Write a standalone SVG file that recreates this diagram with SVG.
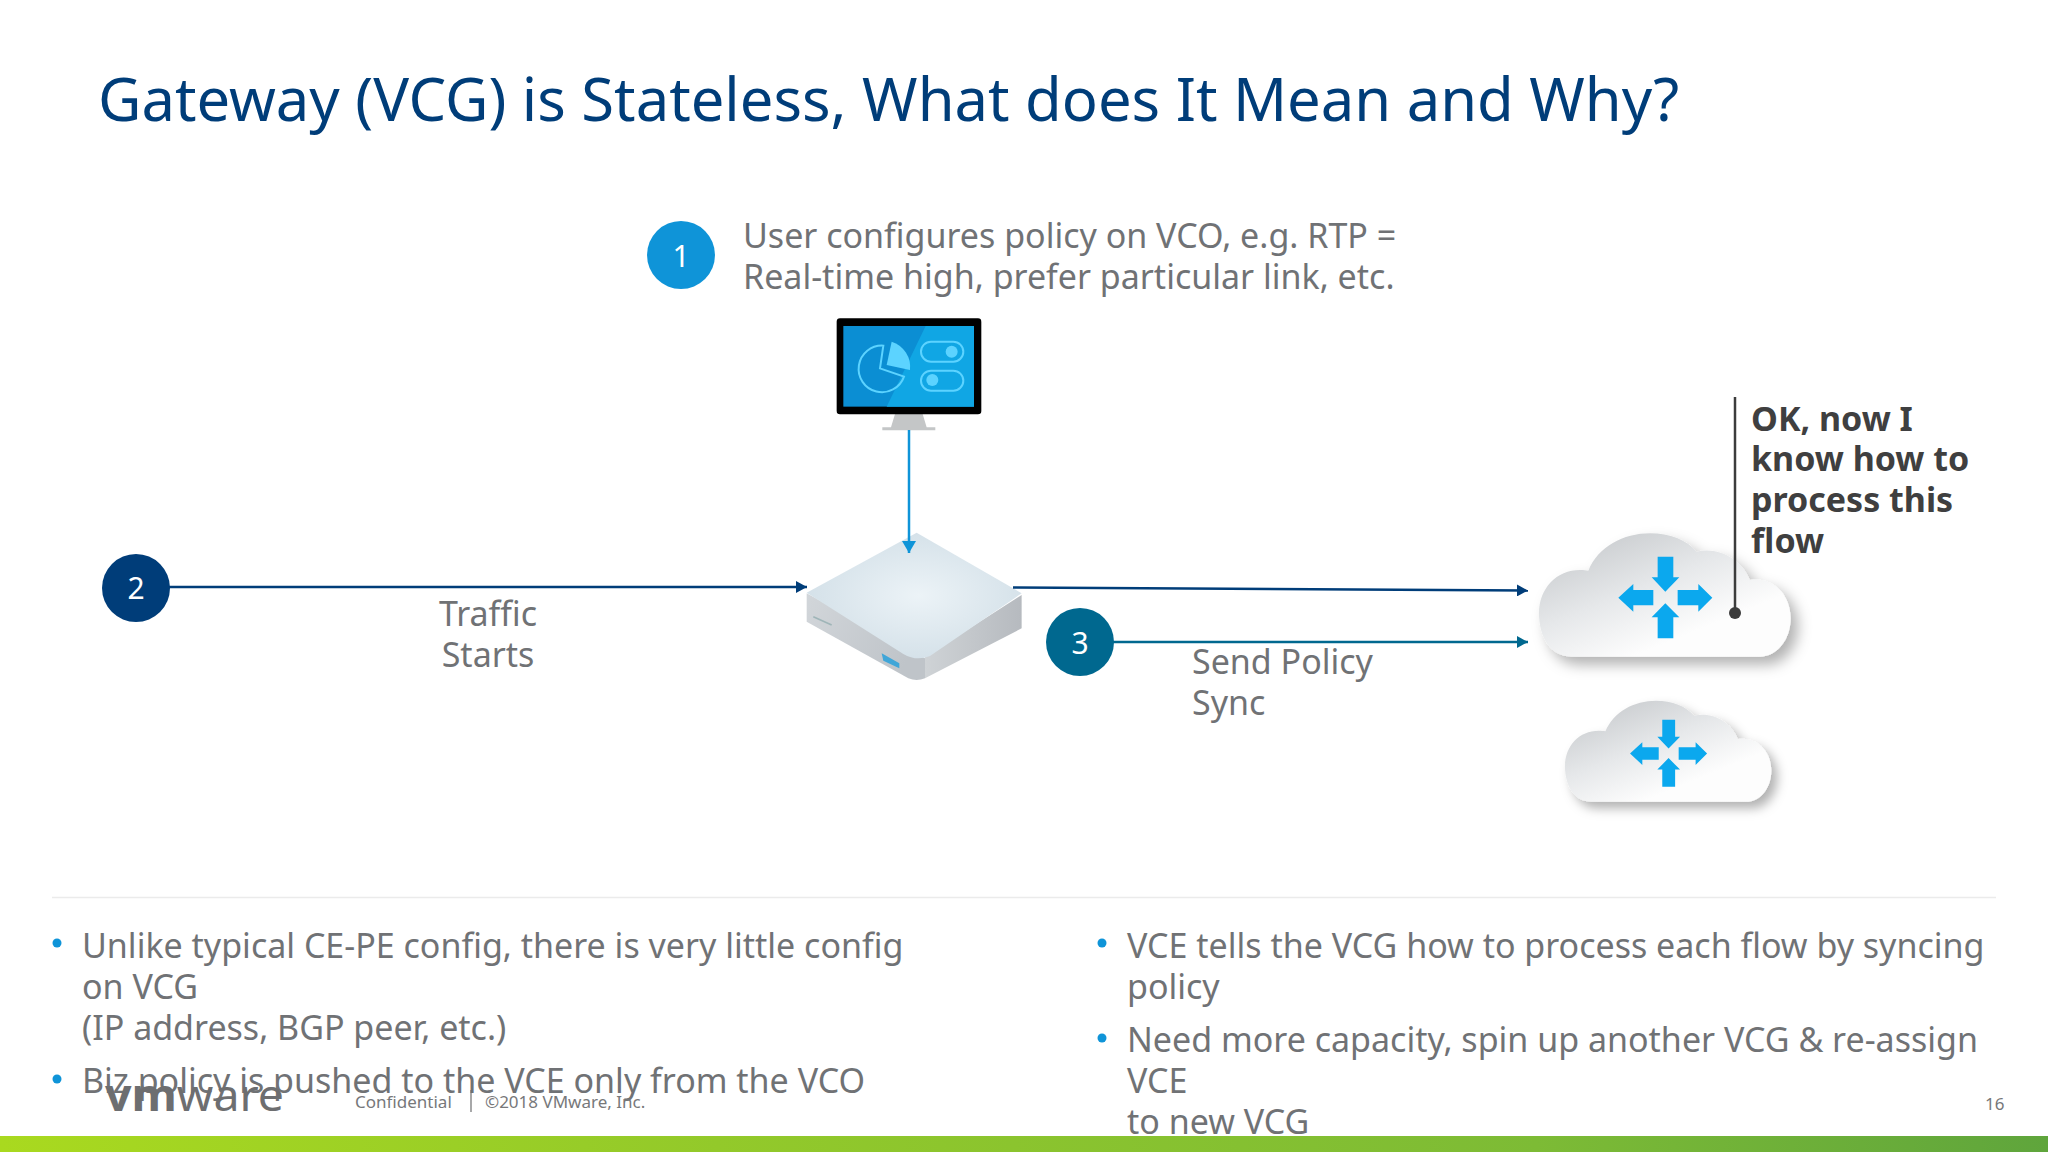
<svg xmlns="http://www.w3.org/2000/svg" width="2048" height="1152" viewBox="0 0 2048 1152">
<style>
text{font-family:"Noto Sans","Open Sans",sans-serif}
.body{font-size:34px;fill:#707275}
.num{font-size:30px;fill:#fff;text-anchor:middle}
.bold{font-size:34px;font-weight:700;fill:#3f3f40}
.foot{font-size:17px;fill:#77787a}
.blt{fill:#0f94d8}
.ar{fill:#0ba8ee}
</style>
<defs>
<linearGradient id="cloudG" x1="0.05" y1="0.05" x2="0.8" y2="0.95"><stop offset="0" stop-color="#c4c7ca"/><stop offset="0.45" stop-color="#e6e8ea"/><stop offset="0.8" stop-color="#fdfdfd"/></linearGradient>
<linearGradient id="barG" x1="0" y1="0" x2="1" y2="0"><stop offset="0" stop-color="#a9d91f"/><stop offset="0.35" stop-color="#93c92a"/><stop offset="0.75" stop-color="#7dbb35"/><stop offset="1" stop-color="#5fa53c"/></linearGradient>
<radialGradient id="topG" cx="0.52" cy="0.5" r="0.55"><stop offset="0" stop-color="#ecf3f7"/><stop offset="1" stop-color="#d3e0e8"/></radialGradient>
<linearGradient id="sideL" x1="0" y1="0" x2="1" y2="0.4"><stop offset="0" stop-color="#d2d6da"/><stop offset="1" stop-color="#bfc4c9"/></linearGradient>
<linearGradient id="sideR" x1="0" y1="0" x2="1" y2="0"><stop offset="0" stop-color="#cfd3d6"/><stop offset="1" stop-color="#b6babf"/></linearGradient>
<filter id="sh" x="-20%" y="-20%" width="150%" height="170%"><feDropShadow dx="22" dy="24" stdDeviation="20" flood-color="#000" flood-opacity="0.3"/></filter>
<filter id="soft" x="-5%" y="-5%" width="110%" height="110%"><feGaussianBlur stdDeviation="2"/></filter>
<marker id="mNavy" markerUnits="userSpaceOnUse" markerWidth="12" markerHeight="12" refX="11" refY="6" orient="auto"><path d="M0 0L11 6L0 12Z" fill="#003d79"/></marker>
<marker id="mTeal" markerUnits="userSpaceOnUse" markerWidth="12" markerHeight="12" refX="11" refY="6" orient="auto"><path d="M0 0L11 6L0 12Z" fill="#00688f"/></marker>
<marker id="mBlue" markerUnits="userSpaceOnUse" markerWidth="13" markerHeight="14" refX="12" refY="7" orient="auto"><path d="M0 0L12 7L0 14Z" fill="#0f94d8"/></marker>
<g id="cloudShape">
<path d="M215 830C150 830 117 770 117 700C117 625 170 570 240 570C252 570 258 571 265 572C295 500 370 460 450 460C510 460 560 480 590 515C660 500 725 540 750 600C825 590 872 650 872 715C872 780 830 830 780 830Z" fill="url(#cloudG)" filter="url(#sh)"/>
<path class="ar" d="M473 530H520V592H538L496 635L455 592H473ZM473 775H520V712H538L496 670L455 712H473ZM460 630V676H400V695L355 653L400 612V630ZM533 630V676H595V695L637 653L595 612V630Z"/>
</g>
</defs>
<rect width="2048" height="1152" fill="#fff"/>
<text x="98" y="121" font-size="59.7" fill="#003d79">Gateway (VCG) is Stateless, What does It Mean and Why?</text>

<g id="n1"><circle cx="681" cy="255" r="34" fill="#0f94d8"/><text class="num" x="681" y="267">1</text>
<text class="body"><tspan x="743" y="248">User configures policy on VCO, e.g. RTP =</tspan><tspan x="743" y="289">Real-time high, prefer particular link, etc.</tspan></text></g>

<g id="monitor" transform="translate(780 300) scale(.3333)">
<path d="M345 342H428L440 382H466V391H307V382H333Z" fill="#c4c6c7"/>
<rect x="170" y="55" width="434" height="288" rx="10" fill="#000"/>
<rect x="190" y="78" width="392" height="242" fill="#0b8ed3"/>
<path d="M437 78H582V320H320Z" fill="#10a6e4"/>
<g fill="none" stroke="#5cd3ff" stroke-width="6">
<path d="M310 137A70 70 0 1 0 372 230L300 205Z"/>
<rect x="423" y="125" width="127" height="60" rx="30"/>
<rect x="423" y="212" width="127" height="60" rx="30"/>
</g>
<g fill="#5cd3ff">
<path d="M335 125A80 80 0 0 1 390 210L320 195Z"/>
<circle cx="515" cy="155" r="18"/><circle cx="457" cy="240" r="18"/>
</g>
</g>

<g id="vce" transform="translate(780 300) scale(.3333)">
<g filter="url(#soft)">
<path d="M80 880V965L385 1135Q410 1145 435 1135V1075Z" fill="url(#sideL)"/>
<path d="M725 885V985L435 1135V1070Z" fill="url(#sideR)"/>
<path d="M410 698L725 880L450 1068Q410 1085 370 1062L80 878Z" fill="url(#topG)"/>
<path d="M305 1060L358 1090V1105L310 1082Z" fill="#3fa6d8"/>
<path d="M100 950L155 975" stroke="#9fb5b8" stroke-width="5" fill="none"/>
</g>
</g>

<g id="connectors" fill="none" stroke-width="2.5">
<path d="M909 430V553" stroke="#0f94d8" marker-end="url(#mBlue)"/>
<path d="M168 587H807" stroke="#003d79" marker-end="url(#mNavy)"/>
<path d="M1013 587.500L1528 590.500" stroke="#003d79" marker-end="url(#mNavy)"/>
<path d="M1113 642H1528" stroke="#00688f" marker-end="url(#mTeal)"/>
</g>

<g id="n2"><circle cx="136" cy="588" r="34" fill="#003d79"/><text class="num" x="136" y="599">2</text>
<text class="body" text-anchor="middle"><tspan x="488" y="626">Traffic</tspan><tspan x="488" y="667">Starts</tspan></text></g>

<g id="n3"><circle cx="1080" cy="642" r="34" fill="#00688f"/><text class="num" x="1080" y="654">3</text>
<text class="body"><tspan x="1192" y="674">Send Policy</tspan><tspan x="1192" y="715">Sync</tspan></text></g>

<g id="vcg1" transform="translate(1500 380) scale(.3333)"><use href="#cloudShape"/></g>
<g id="vcg2" transform="translate(1500 380) scale(.3333) translate(99 585) scale(.82)"><use href="#cloudShape"/></g>

<g id="callout">
<path d="M1735 397V613" stroke="#3c3c3c" stroke-width="2.500" fill="none"/><circle cx="1735" cy="613" r="6" fill="#3c3c3c"/>
<text class="bold"><tspan x="1751" y="431">OK, now I</tspan><tspan x="1751" y="471">know how to</tspan><tspan x="1751" y="512">process this</tspan><tspan x="1751" y="553">flow</tspan></text></g>

<path d="M52 897.500H1996" stroke="#ebebeb" stroke-width="1.500"/>

<g id="bulletsLeft">
<circle class="blt" cx="57" cy="943" r="4.500"/><circle class="blt" cx="57" cy="1079" r="4.500"/>
<text class="body"><tspan x="82" y="958">Unlike typical CE-PE config, there is very little config</tspan><tspan x="82" y="999">on VCG</tspan><tspan x="82" y="1040">(IP address, BGP peer, etc.)</tspan><tspan x="82" y="1093">Biz policy is pushed to the VCE only from the VCO</tspan></text></g>
<g id="bulletsRight">
<circle class="blt" cx="1102" cy="943" r="4.500"/><circle class="blt" cx="1102" cy="1038" r="4.500"/>
<text class="body"><tspan x="1127" y="958">VCE tells the VCG how to process each flow by syncing</tspan><tspan x="1127" y="999">policy</tspan><tspan x="1127" y="1052">Need more capacity, spin up another VCG &amp; re-assign</tspan><tspan x="1127" y="1093">VCE</tspan><tspan x="1127" y="1134">to new VCG</tspan></text></g>

<g id="footer">
<text x="105" y="1111" font-size="44" textLength="179" lengthAdjust="spacingAndGlyphs" fill="#6d6e70"><tspan font-weight="700">vm</tspan>ware</text>
<text class="foot" x="355" y="1108">Confidential</text>
<path d="M471 1090V1112" stroke="#6d6e70" stroke-width="1.200"/>
<text class="foot" x="485" y="1108">©2018 VMware, Inc.</text>
<text class="foot" x="1985" y="1110">16</text>
<rect y="1136" width="2048" height="16" fill="url(#barG)"/>
</g>
</svg>
